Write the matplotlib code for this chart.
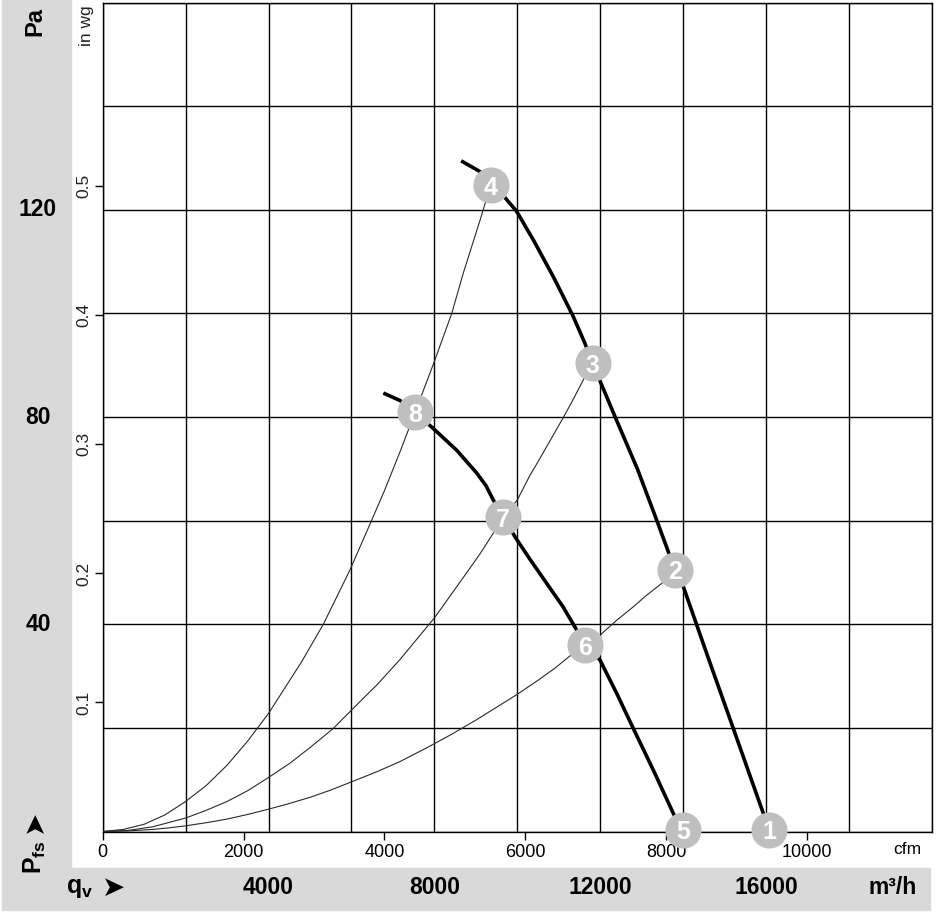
import numpy as np
import matplotlib
matplotlib.use('Agg')
import matplotlib.pyplot as plt
from matplotlib.patches import Rectangle

plt.rcParams['font.family'] = ['Liberation Sans', 'DejaVu Sans']
plt.rcParams['mathtext.fontset'] = 'custom'
plt.rcParams['mathtext.rm'] = 'Liberation Sans'
plt.rcParams['mathtext.bf'] = 'Liberation Sans:bold'

# fan curves, q in m3/h, p in Pa
fan_hi_q = [8682, 9099, 9357, 9700, 9984, 10400, 10867, 11100, 11349, 11632, 11813,
            12355, 12900, 13361, 13802, 14002, 14600, 15208, 15600, 15932, 16045]
fan_hi_p = [129.3, 127.4, 124.8, 122.4, 119.7, 114.0, 107.1, 103.4, 99.4, 94.2, 90.4,
            80.1, 69.9, 60.1, 50.5, 47.3, 33.6, 19.9, 11.0, 3.5, 0.0]
fan_lo_q = [6808, 7170, 7532, 7973, 8537, 9020, 9240, 9420, 9661, 9943, 10300, 10708,
            11100, 11431, 11632, 11993, 12400, 12796, 13300, 13761, 13971]
fan_lo_p = [84.5, 83.2, 80.9, 77.8, 73.6, 69.2, 66.8, 64.0, 60.7, 56.9, 52.6, 47.9,
            43.4, 38.9, 36.0, 33.1, 26.6, 19.9, 11.5, 3.5, 0.0]

# system curves
sys_a_q = [0, 500, 1000, 1500, 2002, 2500, 3000, 3500, 4000, 4800, 5320, 5964, 6487,
           6800, 7200, 7532, 7997, 8417, 8700, 9100, 9357]
sys_a_p = [0, 0.4, 1.4, 3.2, 5.8, 8.9, 12.8, 17.5, 22.8, 32.8, 40.0, 50.5, 60.1,
           65.9, 73.9, 80.9, 90.7, 100.0, 107.9, 118.0, 124.8]
sys_b_q = [0, 600, 1200, 2002, 2500, 3000, 3500, 3994, 4500, 5000, 5561, 6246, 6600,
           7170, 7500, 7997, 8400, 8800, 9100, 9420, 9661, 9999, 10300, 10500, 10800,
           11029, 11300, 11591, 11813]
sys_b_p = [0, 0.2, 0.9, 2.6, 4.1, 5.8, 7.9, 10.4, 13.1, 16.2, 19.9, 25.4, 28.2,
           33.2, 36.4, 41.2, 45.7, 50.2, 53.6, 57.6, 60.7, 64.0, 68.7, 71.4, 75.6,
           78.8, 82.7, 87.2, 90.4]
sys_c_q = [0, 600, 1200, 1600, 2002, 2500, 3000, 3500, 3994, 4500, 5000, 5500, 6005,
           6600, 7170, 7800, 8400, 9000, 9582, 10000, 10500, 10900, 11349, 11632,
           11993, 12400, 12800, 13100, 13481, 13802]
sys_c_p = [0, 0.1, 0.4, 0.7, 1.1, 1.7, 2.4, 3.3, 4.3, 5.4, 6.6, 8.0, 9.6,
           11.5, 13.5, 16.1, 18.7, 21.5, 24.4, 26.5, 29.2, 31.5, 34.4, 36.0,
           37.9, 40.8, 43.4, 45.5, 47.9, 50.5]

# numbered operating points
pt_labels = ['1', '2', '3', '4', '5', '6', '7', '8']
pt_q = [16077, 13802, 11813, 9357, 14002, 11632, 9661, 7532]
pt_p = [0.3, 50.5, 90.4, 124.8, 0.3, 36.0, 60.7, 80.9]

cfm_ticks = [0, 2000, 4000, 6000, 8000, 10000]
inwg_ticks = [0.1, 0.2, 0.3, 0.4, 0.5]
pa_labels = [40, 80, 120]
m3h_labels = [4000, 8000, 12000, 16000]

W, H = 936, 914
fig = plt.figure(figsize=(W / 100, H / 100), dpi=100)
fig.patch.set_facecolor('white')

def fx(px):
    return px / W

def fy(py):
    return 1 - py / H

gray = '#d9d9d9'
fig.patches.append(Rectangle((fx(2), fy(868)), fx(71) - fx(2), fy(0) - fy(868),
                             transform=fig.transFigure, color=gray, zorder=0))
fig.patches.append(Rectangle((fx(2), fy(910)), fx(930) - fx(2), fy(868) - fy(910),
                             transform=fig.transFigure, color=gray, zorder=0))

left, right, top, bottom = 102.7, 932, 2.7, 831.5
ax = fig.add_axes([fx(left), fy(bottom), fx(right) - fx(left), fy(top) - fy(bottom)])
ax.set_xlim(0, 20000)
ax.set_ylim(0, 160)
ax.set_xticks(np.arange(0, 20001, 2000))
ax.set_yticks(np.arange(0, 161, 20))
ax.grid(True, color='black', linewidth=1.0)
ax.tick_params(bottom=False, left=False, labelbottom=False, labelleft=False)
for s in ax.spines.values():
    s.set_linewidth(1.0)

lw_thin = 0.8
ax.plot(sys_a_q, sys_a_p, color='#2a2a2a', lw=lw_thin, zorder=3)
ax.plot(sys_b_q, sys_b_p, color='#2a2a2a', lw=lw_thin, zorder=3)
ax.plot(sys_c_q, sys_c_p, color='#2a2a2a', lw=lw_thin, zorder=3)
ax.plot(fan_hi_q, fan_hi_p, color='black', lw=2.6, zorder=4, clip_on=False,
        solid_joinstyle='round')
ax.plot(fan_lo_q, fan_lo_p, color='black', lw=2.6, zorder=4, clip_on=False,
        solid_joinstyle='round')

for lab, q, p in zip(pt_labels, pt_q, pt_p):
    ax.plot(q, p, 'o', ms=26, mfc='#bfbfbf', mec='none', zorder=5, clip_on=False)
    ax.text(q, p, lab, color='white', fontsize=18, fontweight='bold',
            ha='center', va='center_baseline', zorder=6, clip_on=False)

# cfm axis
cfm = 1.699
sx = ax.secondary_xaxis('bottom', functions=(lambda q: q / cfm, lambda c: c * cfm))
sx.set_xticks(cfm_ticks)
sx.set_xticklabels([str(c) for c in cfm_ticks])
sx.tick_params(length=6, width=1.0, pad=3, labelsize=13)
sx.spines['bottom'].set_visible(False)

# in wg axis
inwg = 249.089
sy = ax.secondary_yaxis('left', functions=(lambda p: p / inwg, lambda w: w * inwg))
sy.set_yticks(inwg_ticks)
sy.set_yticklabels([str(w) for w in inwg_ticks], rotation=90, va='center', color='#222222')
sy.tick_params(length=6, width=1.0, pad=2, labelsize=12.5)
sy.spines['left'].set_visible(False)

fig.text(fx(907), fy(849), 'cfm', fontsize=12.5, ha='center', va='center')
fig.text(fx(87), fy(26), 'in wg', fontsize=12.5, rotation=90, ha='center', va='center',
         color='#222222')

# Pa labels in the left band
fig.text(fx(35), fy(22), 'Pa', fontsize=17, fontweight='bold', rotation=90,
         ha='center', va='center')
for v in pa_labels:
    ypx = bottom - v * (bottom - top) / 160
    fig.text(fx(38), fy(ypx), str(v), fontsize=16.5, fontweight='bold',
             ha='center', va='center')
fig.text(fx(34), fy(821), '\u27a4', fontsize=20, rotation=90, ha='center', va='center',
         family=['DejaVu Sans'])
fig.text(fx(35), fy(857), r'$\mathbf{P_{fs}}$', fontsize=18, rotation=90,
         ha='center', va='center')

# m3/h labels in the bottom band
for v in m3h_labels:
    xpx = left + v * (right - left) / 20000
    fig.text(fx(xpx), fy(888), str(v), fontsize=16.5, fontweight='bold',
             ha='center', va='center')
fig.text(fx(893), fy(888), 'm\u00b3/h', fontsize=16.5, fontweight='bold',
         ha='center', va='center')
fig.text(fx(80), fy(888), r'$\mathbf{q_{v}}$', fontsize=18, ha='center', va='center')
fig.text(fx(114), fy(888), '\u27a4', fontsize=20, ha='center', va='center',
         family=['DejaVu Sans'])

fig.savefig('out.png', dpi=100)
